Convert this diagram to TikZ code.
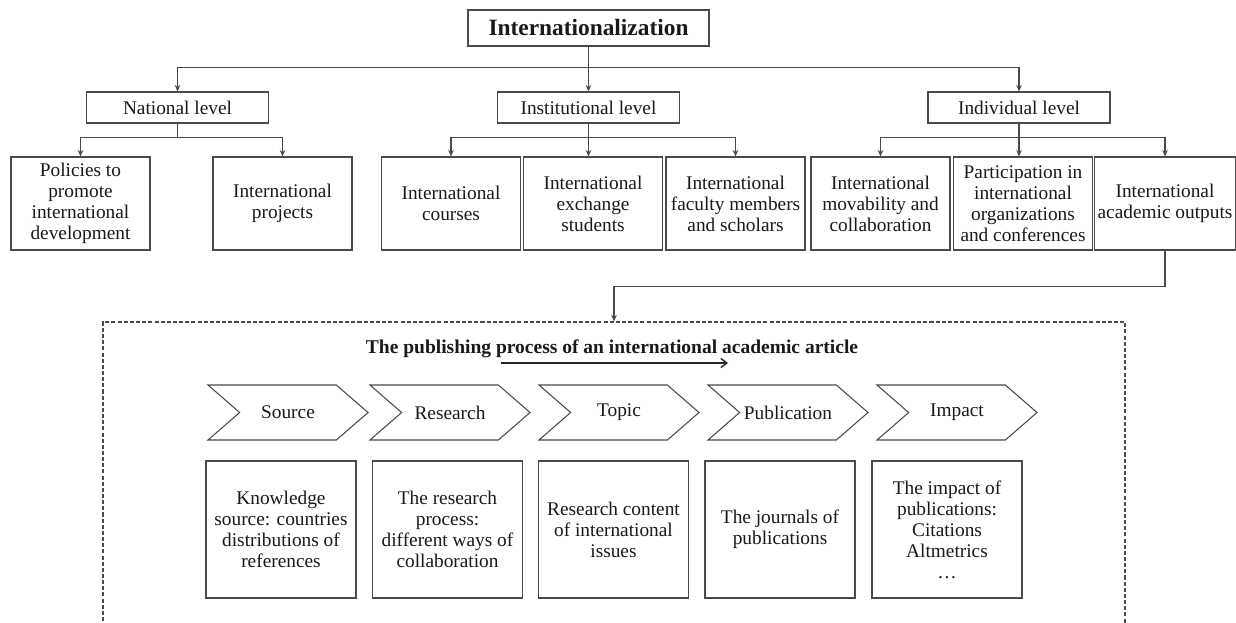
\documentclass[tikz,border=0pt]{standalone}
\usepackage{fontspec}
\setmainfont{Liberation Serif}
\definecolor{linegray}{HTML}{4A4A4A}
\usetikzlibrary{positioning,arrows.meta,shapes.symbols}

\begin{document}
\begin{tikzpicture}[
  font=\fontsize{11}{12}\selectfont,
  every node/.style={text=black!90},
  top/.style={draw=linegray, line width=0.6pt, align=center, minimum width=4.82cm, minimum height=0.72cm, font=\fontsize{13.3}{15}\selectfont\bfseries},
  lvl/.style={draw=linegray, line width=0.6pt, align=center, minimum width=3.64cm, minimum height=0.62cm, inner sep=2pt},
  item/.style={draw=linegray, line width=0.6pt, align=center, minimum width=2.78cm, minimum height=1.86cm, inner sep=2pt},
  chev/.style={draw=linegray, line width=0.6pt, signal, signal from=west, signal to=east, signal pointer angle=82, minimum width=3.2cm, minimum height=1.1cm, inner sep=1pt},
  desc/.style={draw=linegray, line width=0.6pt, align=center, minimum width=3cm, minimum height=2.74cm, inner sep=2pt},
  frame/.style={draw=linegray, line width=0.6pt, dash pattern=on 2.3pt off 1.2pt, minimum width=20.44cm, minimum height=6.36cm},
  arr/.style={-{Stealth[length=1.3mm, width=1.1mm]}, line width=0.6pt, color=linegray},
  flow/.style={-{Straight Barb[length=1.2mm, width=1.8mm]}, line width=0.8pt, color=black!85},
]
  \useasboundingbox (0,0) rectangle (24.72,-12.44);
  \clip (0,0) rectangle (24.72,-12.44);

  \node[top] (intl) at (11.77,-0.56) {Internationalization};
  \node[lvl] (natl)  at (3.55,-2.15)  {National level};
  \node[lvl] (inst)  at (11.77,-2.15) {Institutional level};
  \node[lvl] (indiv) at (20.38,-2.15) {Individual level};

  \node[item] (policies)  at (1.61,-4.07)  {Policies to\\promote\\international\\development};
  \node[item] (projects)  at (5.65,-4.07)  {International\\projects};
  \node[item] (courses)   at (9.02,-4.07)  {International\\courses};
  \node[item] (exchange)  at (11.86,-4.07) {International\\exchange\\students};
  \node[item] (faculty)   at (14.71,-4.07) {International\\faculty members\\and scholars};
  \node[item] (mobility)  at (17.61,-4.07) {International\\movability and\\collaboration};
  \node[item] (meetings)  at (20.46,-4.07) {Participation in\\international\\organizations\\and conferences};
  \node[item] (outputs)   at (23.30,-4.07) {International\\academic outputs};

  \draw[arr] (intl.south) -- (inst.north);
  \draw[arr] (intl.south) -- ++(0,-0.42) -| (natl.north);
  \draw[arr] (intl.south) -- ++(0,-0.42) -| (indiv.north);

  \draw[arr] (natl.south) -- ++(0,-0.28) -| (policies.north);
  \draw[arr] (natl.south) -- ++(0,-0.28) -| (projects.north);

  \draw[arr] (inst.south) -- (inst.south |- exchange.north);
  \draw[arr] (inst.south) -- ++(0,-0.28) -| (courses.north);
  \draw[arr] (inst.south) -- ++(0,-0.28) -| (faculty.north);

  \draw[arr] (indiv.south) -- (indiv.south |- meetings.north);
  \draw[arr] (indiv.south) -- ++(0,-0.28) -| (mobility.north);
  \draw[arr] (indiv.south) -- ++(0,-0.28) -| (outputs.north);

  \node[frame] (frame) at (12.28,-9.62) {};
  \draw[arr] (outputs.south) -- ++(0,-0.72) -| (frame.north);

  \node[font=\fontsize{11.1}{13}\selectfont\bfseries] (title) at (12.24,-6.98) {The publishing process of an international academic article};
  \coordinate (flowL) at (10.02,-7.26);
  \coordinate (flowR) at (14.56,-7.26);
  \draw[flow] (flowL) -- (flowR);

  \node[chev] (source)  at (5.76,-8.25)  {Source};
  \node[chev] (research) at (9.00,-8.25) {Research};
  \node[chev] (topic)   at (12.38,-8.25) {Topic};
  \node[chev] (pub)     at (15.76,-8.25) {Publication};
  \node[chev] (impact)  at (19.14,-8.25) {Impact};

  \node[desc] (sourcetxt)   at (5.62,-10.59)  {Knowledge\\source: countries\\distributions of\\references};
  \node[desc] (researchtxt) at (8.95,-10.59)  {The research\\process:\\different ways of\\collaboration};
  \node[desc] (topictxt)    at (12.27,-10.59) {Research content\\of international\\issues};
  \node[desc] (pubtxt)      at (15.60,-10.59) {The journals of\\publications};
  \node[desc] (impacttxt)   at (18.94,-10.59) {The impact of\\publications:\\Citations\\Altmetrics\\\dots};
\end{tikzpicture}
\end{document}
